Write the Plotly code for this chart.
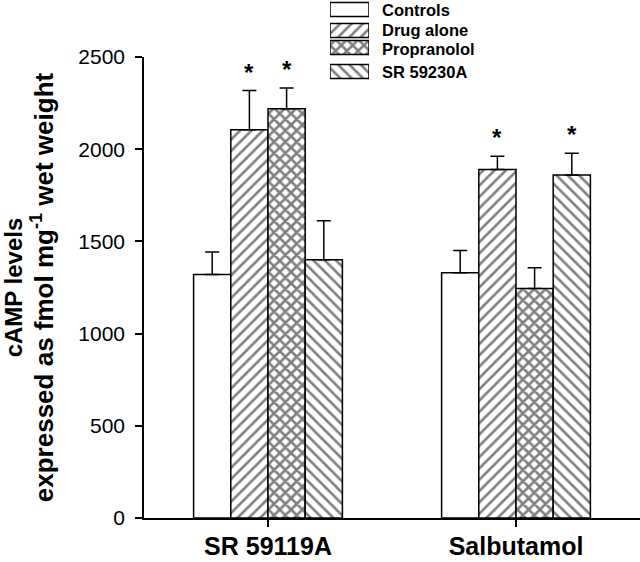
import plotly.graph_objects as go

# ---- data ----
categories = ["SR 59119A", "Salbutamol"]
series_names = ["Controls", "Drug alone", "Propranolol", "SR 59230A"]
controls = [1320, 1330]
drug_alone = [2105, 1890]
propranolol = [2220, 1245]
sr59230a = [1400, 1860]
controls_err = [123, 120]
drug_alone_err = [213, 72]
propranolol_err = [112, 112]
sr59230a_err = [212, 118]
significant = [[False, False], [True, True], [True, False], [False, True]]
y_ticks = [0, 500, 1000, 1500, 2000, 2500]

values = [controls, drug_alone, propranolol, sr59230a]
errors = [controls_err, drug_alone_err, propranolol_err, sr59230a_err]
patterns = ["", "/", "x", "\\"]
solid = [0.3, 0.32, 0.55, 0.32]
psize = [8, 8, 8, 8]

FONT = "Arial, 'Liberation Sans', Helvetica, sans-serif"
BARGAP = 0.4

fig = go.Figure()

for name, vals, errs, pat, so, ps in zip(series_names, values, errors, patterns, solid, psize):
    fig.add_trace(go.Bar(
        name=name, x=categories, y=vals,
        marker=dict(color="white", line=dict(color="black", width=1.5),
                    pattern=dict(shape=pat, fgcolor="black", bgcolor="white",
                                 size=ps, solidity=so)),
        error_y=dict(type="data", symmetric=False, array=errs,
                     arrayminus=[0] * len(errs), color="black",
                     thickness=1.5, width=7),
        showlegend=False,
    ))

# legend drawn as small horizontal bars on an overlay axis
legend_y = [9.5, 30.5, 47.5, 71.5]
legend_text_y = [9.5, 29.5, 49.0, 71.5]
for name, pat, ly, ty, so, ps in zip(series_names, patterns, legend_y, legend_text_y, solid, psize):
    fig.add_trace(go.Bar(
        x=[1], y=[ly], base=0, width=[14], orientation="h",
        xaxis="x2", yaxis="y2", showlegend=False, hoverinfo="skip",
        marker=dict(color="white", line=dict(color="black", width=1.5),
                    pattern=dict(shape=pat, fgcolor="black", bgcolor="white",
                                 size=ps, solidity=so)),
    ))
    fig.add_annotation(x=0.4758, xref="paper", xanchor="left",
                       y=ty, yref="y2", yanchor="middle", showarrow=False,
                       text="<b>%s</b>" % name,
                       font=dict(family=FONT, size=16.5, color="black"))

# asterisks for significance
w = 1 - BARGAP
for i, (vals, errs, sig) in enumerate(zip(values, errors, significant)):
    offset = -w / 2 + w / 8 + i * w / 4
    for j, s in enumerate(sig):
        if s:
            fig.add_annotation(x=j + offset, y=vals[j] + errs[j], xref="x",
                               yref="y", text="<b>*</b>", showarrow=False,
                               yanchor="bottom", yshift=3,
                               font=dict(family=FONT, size=24, color="black"))

H = 562
B = 44
plot_h = H - B
fig.update_layout(
    width=640, height=H,
    margin=dict(l=144, r=0, t=0, b=B, pad=0, autoexpand=False),
    paper_bgcolor="white", plot_bgcolor="white",
    barmode="group", bargap=BARGAP, bargroupgap=0,
    font=dict(family=FONT, color="black"),
    xaxis=dict(domain=[0, 1], showline=True, linecolor="black", linewidth=1.5,
               ticks="outside", ticklen=7, tickwidth=1.5, tickcolor="black",
               tickfont=dict(family=FONT, size=25, color="black"),
               ticklabelstandoff=-2,
               tickvals=categories, ticktext=["<b>%s</b>" % c for c in categories],
               showgrid=False, zeroline=False, automargin=False),
    yaxis=dict(domain=[0, 1 - 57 / plot_h], range=[0, 2500],
               tickvals=y_ticks, showline=True, linecolor="black", linewidth=1.5,
               ticks="outside", ticklen=7, tickwidth=1.5, tickcolor="black",
               tickfont=dict(family=FONT, size=21, color="black"),
               ticklabelstandoff=6, automargin=False,
               showgrid=False, zeroline=False,
               title=dict(text="<b>cAMP levels<br><span style='font-size:26px'>expressed as fmol mg<sup>-1</sup> wet weight</span></b>",
                          font=dict(family=FONT, size=24, color="black"),
                          standoff=20)),
    xaxis2=dict(domain=[(330 - 144) / 496, (369 - 144) / 496], range=[0, 1],
                visible=False, fixedrange=True, anchor="y2"),
    yaxis2=dict(domain=[1 - 80 / plot_h, 1], range=[80, 0], visible=False,
                fixedrange=True, anchor="x2"),
)

fig.write_html("out.html", config={"displayModeBar": False},
               post_script="document.body.style.margin='0';")
